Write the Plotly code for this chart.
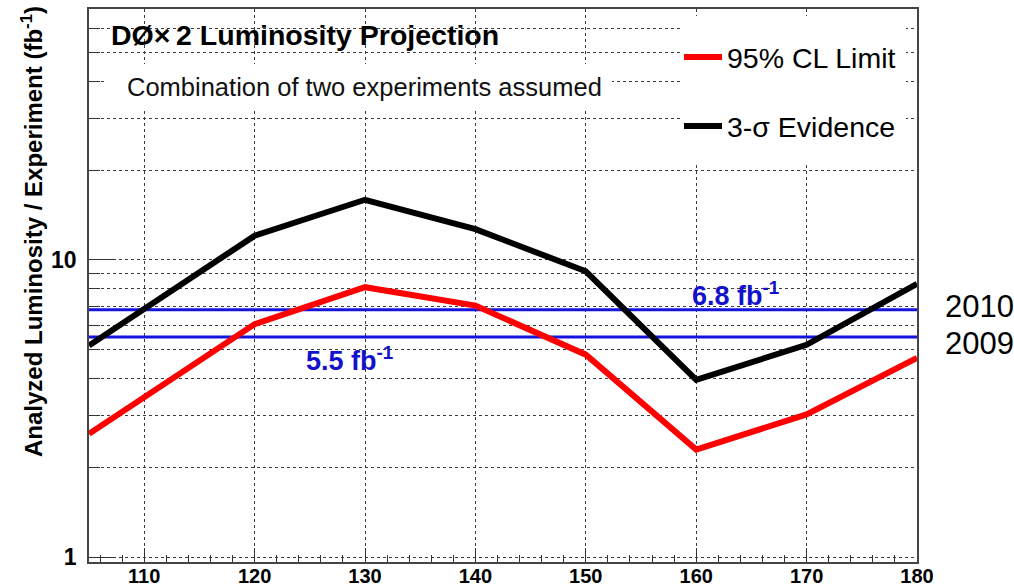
import math
import plotly.graph_objects as go

# ---- data ----
mass = [105, 120, 130, 140, 150, 160, 170, 180]
limit_95cl = [2.60, 6.08, 8.10, 7.02, 4.80, 2.30, 3.02, 4.68]
evidence_3sigma = [5.15, 12.07, 15.95, 12.7, 9.16, 3.95, 5.18, 8.31]
proj_years = ["2009", "2010"]
proj_lumi = [5.5, 6.8]
x_ticks = [110, 120, 130, 140, 150, 160, 170, 180]
y_major = [1, 10]
y_minor = [2, 3, 4, 5, 6, 7, 8, 9, 20, 30, 40, 50, 60]

FONT = "Liberation Sans, Arial, Helvetica, sans-serif"
BLUE_LINE = "#1414dc"
BLUE_TEXT = "#1212cc"

fig = go.Figure()

xmin, xmax = min(mass), max(mass)

# projection lines
for yr, v in zip(proj_years, proj_lumi):
    fig.add_trace(go.Scatter(x=[xmin, xmax], y=[v, v], mode="lines",
                             line=dict(color=BLUE_LINE, width=3),
                             showlegend=False, hoverinfo="skip"))

fig.add_trace(go.Scatter(x=mass, y=limit_95cl, mode="lines", name="95% CL Limit",
                         line=dict(color="#ff0000", width=6), legendgroup="a"))
fig.add_trace(go.Scatter(x=mass, y=evidence_3sigma, mode="lines", name="3-σ Evidence",
                         line=dict(color="#000000", width=6), legendgroup="b"))

L, R, T, B = 89, 97, 9, 26
W, H = 1014, 588
pw, ph = W - L - R, H - T - B

def px(xp):
    return (xp - L) / pw

def py(yp):
    return (H - B - yp) / ph

fig.update_layout(
    width=W, height=H,
    template="none",
    paper_bgcolor="white", plot_bgcolor="white",
    margin=dict(l=L, r=R, t=T, b=B, pad=0),
    font=dict(family=FONT, color="black"),
    showlegend=True,
    legend=dict(x=px(679), y=py(32), xanchor="left", yanchor="top",
                bgcolor="rgba(0,0,0,0)", borderwidth=0,
                font=dict(size=28.5, family=FONT, color="black"),
                traceorder="grouped", tracegroupgap=29, itemwidth=38),
)

grid_style = dict(gridcolor="#3c3c3c", gridwidth=1, griddash="dot")

fig.update_xaxes(
    range=[xmin, xmax], tickmode="array", tickvals=x_ticks,
    ticktext=[str(t) for t in x_ticks],
    ticks="inside", ticklen=14, tickwidth=1, tickcolor="#333",
    showline=True, linecolor="#444", linewidth=1.5, mirror=True,
    showgrid=True, **grid_style,
    tickfont=dict(size=20, family=FONT, color="black", weight="bold"),
    minor=dict(dtick=2, tick0=0, ticks="inside", ticklen=7, tickcolor="#333", showgrid=False),
    zeroline=False, automargin=False, ticklabelstandoff=-5,
)
fig.update_yaxes(
    type="log", range=[-0.0168, 1.845],
    tickmode="array", tickvals=y_major, ticktext=[str(t) for t in y_major],
    ticks="inside", ticklen=24, tickwidth=1, tickcolor="#333",
    showline=True, linecolor="#444", linewidth=1.5, mirror=True,
    showgrid=True, **grid_style,
    tickfont=dict(size=23, family=FONT, color="black", weight="bold"),
    minor=dict(tickmode="array", tickvals=y_minor, ticks="inside", ticklen=11,
               tickcolor="#333", showgrid=True, **grid_style),
    zeroline=False, automargin=False, ticklabelstandoff=6,
)

# white boxes behind texts (hide grid)
fig.add_shape(type="rect", xref="paper", yref="paper", layer="above",
              x0=px(107), x1=px(612), y0=py(110), y1=py(64),
              fillcolor="white", line=dict(width=0))
fig.add_shape(type="rect", xref="paper", yref="paper", layer="above",
              x0=px(680), x1=px(906), y0=py(163), y1=py(16),
              fillcolor="white", line=dict(width=0))

# title texts
fig.add_annotation(xref="paper", yref="paper", x=px(109), y=py(35), xanchor="left", yanchor="middle",
                   text="DØ×\u20092 Luminosity Projection", showarrow=False,
                   font=dict(size=28.5, family=FONT, color="black", weight="bold"))
fig.add_annotation(xref="paper", yref="paper", x=px(125), y=py(87), xanchor="left", yanchor="middle",
                   text="Combination of two experiments assumed", showarrow=False,
                   font=dict(size=25.5, family=FONT, color="#111"))

# projection labels
label_pos = {"2010": (163.6, 16), "2009": (128.6, -22)}
for yr, v in zip(proj_years, proj_lumi):
    lx, ys = label_pos[yr]
    fig.add_annotation(x=lx, y=math.log10(v), yref="y", xref="x", text=f"{v} fb<sup>-1</sup>",
                       showarrow=False, yshift=ys, xanchor="center",
                       font=dict(size=27, family=FONT, color=BLUE_TEXT, weight="bold"))
    fig.add_annotation(xref="paper", yref="y", x=px(943), y=math.log10(v), xanchor="left",
                       text=yr, showarrow=False, yshift=(3 if yr == "2010" else -6),
                       font=dict(size=31, family=FONT, color="black"))

# y axis title
fig.add_annotation(xref="paper", yref="paper", x=px(32), y=py(232), textangle=-90,
                   xanchor="center", yanchor="middle",
                   text="Analyzed Luminosity / Experiment (fb<sup>-1</sup>)", showarrow=False,
                   font=dict(size=24, family=FONT, color="black", weight="bold"))

fig.write_html("out.html", config={"displayModeBar": False},
               post_script="document.body.style.margin='0';document.body.style.overflow='hidden';")
